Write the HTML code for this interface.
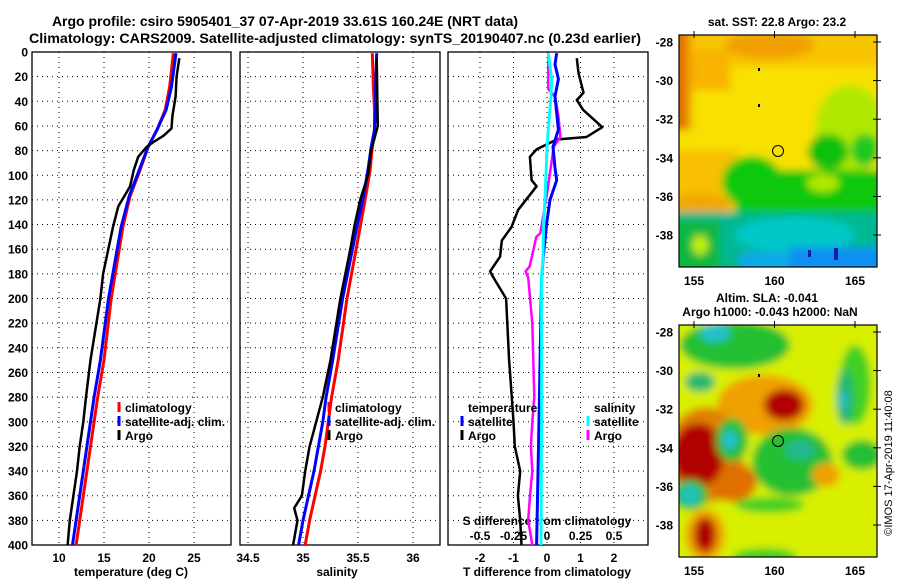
<!DOCTYPE html>
<html><head><meta charset="utf-8"><style>
html,body{margin:0;padding:0;background:#fff;}
svg{display:block;font-family:"Liberation Sans",Arial,sans-serif;font-weight:bold;}
</style></head><body>
<svg id="chart" width="900" height="580" viewBox="0 0 900 580" xmlns="http://www.w3.org/2000/svg">
<defs>
<clipPath id="c1"><rect x="32" y="52" width="199" height="493"/></clipPath>
<clipPath id="c2"><rect x="240" y="52" width="200" height="493"/></clipPath>
<clipPath id="c3"><rect x="448" y="52" width="200" height="493"/></clipPath>
<clipPath id="m1"><rect x="679" y="35" width="198" height="232"/></clipPath>
<clipPath id="m2"><rect x="679" y="325" width="198" height="232"/></clipPath>
<filter id="bl" x="-10%" y="-10%" width="120%" height="120%"><feGaussianBlur stdDeviation="4"/></filter>
</defs>
<rect width="900" height="580" fill="#fff"/>
<text x="285" y="26" text-anchor="middle" font-size="14">Argo profile: csiro 5905401_37 07-Apr-2019 33.61S 160.24E (NRT data)</text>
<text x="335" y="43" text-anchor="middle" font-size="14" textLength="612" lengthAdjust="spacingAndGlyphs">Climatology: CARS2009. Satellite-adjusted climatology: synTS_20190407.nc (0.23d earlier)</text>

<g id="grids"></g>
<g id="series"></g>

<!-- Top map: SST -->
<g clip-path="url(#m1)">
<g filter="url(#bl)">
<rect x="670" y="25" width="220" height="250" fill="#f8e000"/>
<rect x="670" y="25" width="220" height="42" fill="#f8c400"/>
<ellipse cx="770" cy="45" rx="45" ry="14" fill="#f0a000"/>
<rect x="670" y="50" width="60" height="40" fill="#f8b400"/>
<rect x="670" y="30" width="22" height="100" fill="#f0a000"/>
<rect x="670" y="30" width="16" height="100" fill="#e07000"/>
<ellipse cx="850" cy="130" rx="35" ry="45" fill="#b0e800"/>
<ellipse cx="865" cy="150" rx="14" ry="16" fill="#20c820"/>
<rect x="670" y="150" width="68" height="68" fill="#f8c000"/>
<ellipse cx="700" cy="205" rx="30" ry="12" fill="#f0a800"/>
<rect x="735" y="170" width="160" height="50" fill="#10c810"/>
<ellipse cx="752" cy="182" rx="30" ry="26" fill="#10c810"/>
<ellipse cx="828" cy="152" rx="20" ry="18" fill="#10c010"/>
<ellipse cx="823" cy="183" rx="16" ry="9" fill="#b0e800"/>
<rect x="670" y="212" width="220" height="70" fill="#00b890"/>
<rect x="670" y="220" width="50" height="60" fill="#10b840"/>
<ellipse cx="700" cy="245" rx="8" ry="10" fill="#c0f000"/>
<ellipse cx="795" cy="235" rx="60" ry="18" fill="#00c8c8"/>
<rect x="790" y="247" width="100" height="30" fill="#1090f0"/>
<rect x="740" y="252" width="50" height="20" fill="#10a8e8"/>
</g>
<rect x="834" y="248" width="4" height="12" fill="#1020a0"/>
<rect x="808" y="250" width="3" height="7" fill="#1020a0"/>
<rect x="758" y="104" width="2" height="3" fill="#000"/>
<rect x="758" y="68" width="2" height="3" fill="#000"/>
<circle cx="778" cy="151" r="5.5" fill="none" stroke="#000" stroke-width="1"/>
</g>
<rect x="679" y="35" width="198" height="232" fill="none" stroke="#000" stroke-width="1.2"/>
<text x="777" y="26" text-anchor="middle" font-size="12">sat. SST: 22.8 Argo: 23.2</text>

<!-- Bottom map: SLA -->
<g clip-path="url(#m2)">
<g filter="url(#bl)">
<rect x="670" y="315" width="220" height="250" fill="#d8f000"/>
<ellipse cx="735" cy="345" rx="55" ry="24" fill="#20c030"/>
<ellipse cx="715" cy="333" rx="15" ry="9" fill="#20c0d0"/>
<ellipse cx="700" cy="382" rx="15" ry="10" fill="#20b870"/>
<ellipse cx="765" cy="405" rx="48" ry="30" fill="#f0a000"/>
<ellipse cx="784" cy="405" rx="20" ry="16" fill="#b00000"/>
<ellipse cx="705" cy="455" rx="38" ry="48" fill="#e08000"/>
<ellipse cx="732" cy="482" rx="25" ry="20" fill="#e07000"/>
<ellipse cx="698" cy="455" rx="26" ry="32" fill="#b00000"/>
<ellipse cx="732" cy="440" rx="16" ry="22" fill="#20c030"/>
<ellipse cx="730" cy="440" rx="7" ry="10" fill="#20c0d0"/>
<ellipse cx="792" cy="462" rx="40" ry="34" fill="#20c030"/>
<ellipse cx="800" cy="450" rx="15" ry="10" fill="#20b890"/>
<ellipse cx="855" cy="385" rx="16" ry="40" fill="#40d020"/>
<ellipse cx="845" cy="397" rx="9" ry="28" fill="#20b870"/>
<ellipse cx="843" cy="400" rx="5" ry="10" fill="#20c0c0"/>
<ellipse cx="862" cy="455" rx="20" ry="15" fill="#20c030"/>
<ellipse cx="826" cy="475" rx="14" ry="12" fill="#f0a000"/>
<ellipse cx="690" cy="495" rx="18" ry="15" fill="#20c030"/>
<ellipse cx="690" cy="495" rx="10" ry="10" fill="#20c0c0"/>
<ellipse cx="705" cy="535" rx="20" ry="26" fill="#f0a000"/>
<ellipse cx="705" cy="535" rx="11" ry="18" fill="#b00000"/>
<ellipse cx="770" cy="505" rx="35" ry="8" fill="#40d020"/>
<ellipse cx="765" cy="557" rx="32" ry="9" fill="#40d020"/>
</g>
<rect x="758" y="374" width="2" height="3" fill="#000"/>
<circle cx="778" cy="441" r="5.5" fill="none" stroke="#000" stroke-width="1"/>
</g>
<rect x="679" y="325" width="198" height="232" fill="none" stroke="#000" stroke-width="1.2"/>
<text x="767" y="302" text-anchor="middle" font-size="12">Altim. SLA: -0.041</text>
<text x="770" y="316" text-anchor="middle" font-size="12">Argo h1000: -0.043 h2000: NaN</text>
<text transform="translate(892,463) rotate(-90)" text-anchor="middle" font-size="11" font-weight="normal">©IMOS 17-Apr-2019 11:40:08</text>
<g id="mapaxes"></g>
</svg>
<script>
// ---- data ----
const depthTicks = [0,20,40,60,80,100,120,140,160,180,200,220,240,260,280,300,320,340,360,380,400];
const tempTicks = [10,15,20,25];
const salTicks = [34.5,35,35.5,36];
const salTickLabels = ["34.5","35","35.5","36"];
const dTTicks = [-2,-1,0,1,2];
const dSTicks = [-0.5,-0.25,0,0.25,0.5];
const dSTickLabels = ["-0.5","-0.25","0","0.25","0.5"];

const tArgoDepth = [5,20,36,52,62,68,73,77,85,96,109,114,125,142,180,200,250,280,300,320,340,360,380,400];
const tArgo = [23.37,23.07,22.96,22.6,22.5,21.6,20.5,19.74,18.8,18.3,17.9,17.5,16.6,16.0,14.9,14.6,13.5,13.0,12.7,12.3,12.0,11.6,11.2,10.96];
const climDepth = [1,28,47,63,77,96,117,142,200,250,280,300,320,340,360,380,400];
const tClim = [22.7,22.3,21.8,20.9,19.9,19.0,17.9,17.1,15.8,15.0,14.3,13.9,13.5,13.1,12.7,12.3,11.9];
const tSat = [23.0,22.5,21.9,20.9,19.9,18.9,17.8,16.9,15.5,14.6,13.9,13.5,13.1,12.7,12.3,11.9,11.5];

const sArgoDepth = [5,60,80,100,120,140,160,200,250,280,300,320,340,360,370,380,400];
const sArgo = [35.67,35.68,35.62,35.59,35.52,35.47,35.43,35.34,35.25,35.18,35.12,35.06,35.02,34.99,34.92,34.95,34.91];
const sClim = [35.63,35.64,35.65,35.65,35.63,35.61,35.57,35.52,35.40,35.32,35.26,35.23,35.20,35.16,35.11,35.06,35.02];
const sSat = [35.67,35.66,35.66,35.65,35.62,35.59,35.55,35.49,35.36,35.27,35.21,35.18,35.14,35.10,35.05,35.00,34.96];

const dArgoDepth = [5,17,33,39,47,61,69,71,79,85,104,109,128,142,153,166,178,183,200,250,280,300,320,340,360,380,400];
const dTArgo = [0.89,0.94,1.09,0.89,1.08,1.65,1.18,0.29,-0.31,-0.51,-0.46,-0.31,-0.86,-1.06,-1.35,-1.4,-1.7,-1.6,-1.22,-1.13,-1.05,-1.0,-0.96,-0.8,-0.87,-0.8,-0.76];
const dSatDepth = [1,10,22,36,63,77,94,104,120,139,166,183,300,400];
const dTSat = [0.29,0.24,0.34,0.24,0.34,0.18,0.24,0.29,0.09,-0.01,-0.11,-0.16,-0.24,-0.31];
const dSSat = [0.01,0.02,0.035,0.03,0.01,0,-0.005,-0.01,-0.015,-0.025,-0.03,-0.04,-0.04,-0.045];
const dSArgoDepth = [1,30,36,52,69,77,115,147,150,160,174,178,183,220,280,300,320,340,360,380,400];
const dSArgo = [0.01,0.01,0.06,0.085,0.1,0.05,0,-0.05,-0.08,-0.1,-0.13,-0.16,-0.14,-0.11,-0.095,-0.11,-0.12,-0.11,-0.127,-0.14,-0.11];

const latTicks = [-28,-30,-32,-34,-36,-38];
const lonTicks = [155,160,165];

// ---- axes ----
const yD = d => 52 + d * 493 / 400;
const xT = t => 59 + (t - 10) * 9;
const xS = s => 248 + (s - 34.5) * 110;
const xDT = v => 547 + v * 33.5;
const xDS = v => 547 + v * 134;
const mapX = lon => 694 + (lon - 155) * 16.1;
const mapY1 = lat => 42 + (-28 - lat) * 19.3;
const mapY2 = lat => 332 + (-28 - lat) * 19.3;

const NS = "http://www.w3.org/2000/svg";
const svg = document.getElementById('chart');
const grids = document.getElementById('grids');
const series = document.getElementById('series');
const mapaxes = document.getElementById('mapaxes');
function mk(tag, attrs, parent) {
  const e = document.createElementNS(NS, tag);
  for (const k in attrs) e.setAttribute(k, attrs[k]);
  parent.appendChild(e);
  return e;
}
function txt(s, attrs, parent) { const e = mk('text', attrs, parent); e.textContent = s; return e; }

const panels = [
  {x0:32, x1:231, ticks:tempTicks, fx:xT, labels:tempTicks.map(String), name:'temperature'},
  {x0:240, x1:440, ticks:salTicks, fx:xS, labels:salTickLabels, name:'salinity'},
  {x0:448, x1:648, ticks:dTTicks, fx:xDT, labels:dTTicks.map(String), name:'difference'}
];
panels.forEach(p => {
  depthTicks.forEach((d, i) => {
    if (d > 0 && d < 400) {
      const l = mk('line', {x1:p.x0, x2:p.x1, y1:yD(d), y2:yD(d), stroke:'#000', 'stroke-width':1, 'stroke-dasharray':'1,4'}, grids);
      
      
    }
  });
  const vt = p.ticks.concat(p.name === 'difference' ? [] : []);
  vt.forEach((t, i) => {
    const x = p.fx(t);
    const l = mk('line', {x1:x, x2:x, y1:52, y2:545, stroke:'#000', 'stroke-width':1, 'stroke-dasharray':'1,4'}, grids);
    
    
    const lab = txt(p.labels[i], {x:x, y:562, 'text-anchor':'middle', 'font-size':12}, grids);
    
    
  });
  const r = mk('rect', {x:p.x0, y:52, width:p.x1 - p.x0, height:493, fill:'none', stroke:'#000', 'stroke-width':1.3}, grids);
  
  
});
depthTicks.forEach(d => {
  const lab = txt(String(d), {x:28, y:yD(d) + 4.5, 'text-anchor':'end', 'font-size':12}, grids);
  
  
});
// x axis titles
const xt1 = txt('temperature (deg C)', {x:131, y:576, 'text-anchor':'middle', 'font-size':12}, grids);


const xt2 = txt('salinity', {x:337, y:576, 'text-anchor':'middle', 'font-size':12}, grids);


const xt3 = txt('T difference from climatology', {x:547, y:576, 'text-anchor':'middle', 'font-size':12}, grids);


const st = txt('S difference from climatology', {x:547, y:525, 'text-anchor':'middle', 'font-size':12}, grids);


dSTicks.forEach((v, i) => {
  const lab = txt(dSTickLabels[i], {x:xDS(v), y:540, 'text-anchor':'middle', 'font-size':12}, grids);
  
  
});

function line(depths, vals, fx, color, w, clip, name) {
  const pts = depths.map((d, i) => fx(vals[i]).toFixed(1) + ',' + yD(d).toFixed(1)).join(' ');
  const pl = mk('polyline', {points:pts, fill:'none', stroke:color, 'stroke-width':w, 'stroke-linejoin':'round', 'clip-path':'url(#' + clip + ')'}, series);
  
  
}
line(climDepth, tClim, xT, '#ff0000', 3, 'c1', 'temperature-climatology-line');
line(climDepth, tSat, xT, '#0000ff', 3, 'c1', 'temperature-satellite-line');
line(tArgoDepth, tArgo, xT, '#000', 2.5, 'c1', 'temperature-argo-line');
line(climDepth, sClim, xS, '#ff0000', 3, 'c2', 'salinity-climatology-line');
line(climDepth, sSat, xS, '#0000ff', 3, 'c2', 'salinity-satellite-line');
line(sArgoDepth, sArgo, xS, '#000', 2.5, 'c2', 'salinity-argo-line');
line(dArgoDepth, dTArgo, xDT, '#000', 2.5, 'c3', 'tdiff-argo-line');
line(dSArgoDepth, dSArgo, xDS, '#ff00ff', 2.5, 'c3', 'sdiff-argo-line');
line(dSatDepth, dTSat, xDT, '#0000ff', 3, 'c3', 'tdiff-satellite-line');
line(dSatDepth, dSSat, xDS, '#00ffff', 3, 'c3', 'sdiff-satellite-line');

function legend(x, y, color, label, name) {
  if (color) {
    const m = mk('line', {x1:x, x2:x, y1:y - 10, y2:y, stroke:color, 'stroke-width':3}, series);
    
    
  }
  const t = txt(label, {x:x + 6, y:y, 'font-size':12}, series);
  
  
}
legend(119, 412, '#ff0000', 'climatology', 'legend-climatology');
legend(119, 426, '#0000ff', 'satellite-adj. clim.', 'legend-satellite-adj');
legend(119, 440, '#000', 'Argo', 'legend-argo');
legend(329, 412, '#ff0000', 'climatology', 'legend-climatology-sal');
legend(329, 426, '#0000ff', 'satellite-adj. clim.', 'legend-satellite-adj-sal');
legend(329, 440, '#000', 'Argo', 'legend-argo-sal');
legend(462, 412, null, 'temperature', 'legend-temperature-header');
legend(462, 426, '#0000ff', 'satellite', 'legend-t-satellite');
legend(462, 440, '#000', 'Argo', 'legend-t-argo');
legend(588, 412, null, 'salinity', 'legend-salinity-header');
legend(588, 426, '#00ffff', 'satellite', 'legend-s-satellite');
legend(588, 440, '#ff00ff', 'Argo', 'legend-s-argo');

// map axes
[mapY1, mapY2].forEach((fy, k) => {
  latTicks.forEach(lat => {
    const y = fy(lat);
    const t = txt(String(lat), {x:673, y:y + 4.5, 'text-anchor':'end', 'font-size':12}, mapaxes);
    
    
    const tk = mk('line', {x1:873, x2:881, y1:y, y2:y, stroke:'#000', 'stroke-width':1}, mapaxes);
    
    
  });
  const top = k === 0 ? 35 : 325, bot = k === 0 ? 267 : 557;
  lonTicks.forEach(lon => {
    const x = mapX(lon);
    const t = txt(String(lon), {x:x, y:bot + 18, 'text-anchor':'middle', 'font-size':12}, mapaxes);
    
    
    const tk = mk('line', {x1:x, x2:x, y1:top - 4, y2:top + 3, stroke:'#000', 'stroke-width':1}, mapaxes);
    
    
  });
});
</script>
</body></html>
